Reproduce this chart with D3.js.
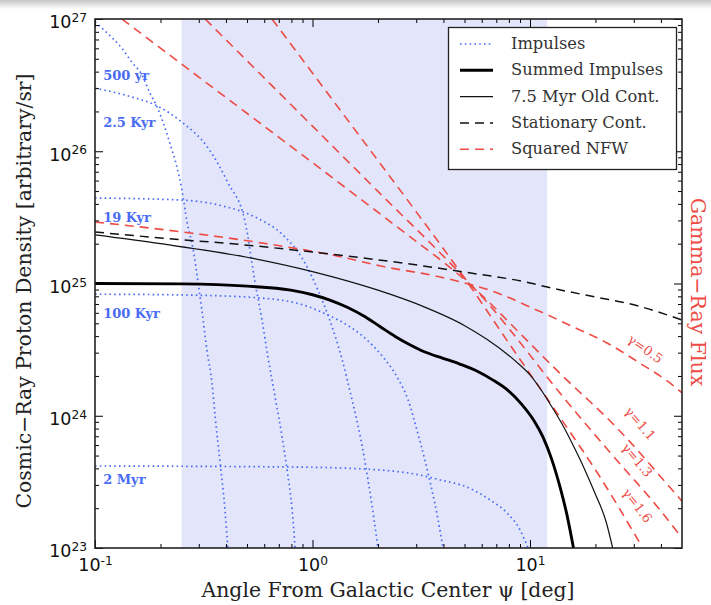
<!DOCTYPE html>
<html>
<head>
<meta charset="utf-8">
<script src="https://cdn.jsdelivr.net/npm/d3@7"></script>
<style>
  body { margin: 0; background: #fff; }
  svg { display: block; }
</style>
</head>
<body>
<svg id="chart" width="711" height="605"></svg>
<script>
// ---- data: [angle psi in deg, density] ----
const impulse500yr = [[0.1,9.5e26],[0.12,7.2e26],[0.133,6.0e26],[0.148,4.7e26],[0.164,3.8e26],[0.179,2.75e26],[0.193,2.16e26],[0.206,1.64e26],[0.221,1.15e26],[0.238,7.6e25],[0.251,5.1e25],[0.265,2.92e25],[0.283,1.79e25],[0.298,1.01e25],[0.310,6.3e24],[0.327,3.14e24],[0.345,1.77e24],[0.357,9.8e23],[0.376,4.4e23],[0.396,1.94e23],[0.408,1.0e23]];
const impulse2500yr = [[0.1,3.0e26],[0.148,2.57e26],[0.189,2.24e26],[0.251,1.66e26],[0.331,1.06e26],[0.408,5.8e25],[0.490,2.92e25],[0.545,1.01e25],[0.586,5.3e24],[0.624,2.78e24],[0.673,1.39e24],[0.725,6.9e23],[0.764,3.9e23],[0.806,1.94e23],[0.832,1.0e23]];
const impulse19kyr = [[0.1,4.43e25],[0.246,4.28e25],[0.388,3.85e25],[0.545,3.18e25],[0.731,2.33e25],[0.895,1.56e25],[1.06,8.9e24],[1.20,5.3e24],[1.37,2.64e24],[1.52,1.32e24],[1.67,6.6e23],[1.80,3.27e23],[1.92,1.63e23],[2.0,1.0e23]];
const impulse100kyr = [[0.1,8.3e24],[0.246,8.2e24],[0.556,7.8e24],[0.903,6.9e24],[1.17,5.8e24],[1.49,4.7e24],[1.78,3.74e24],[2.11,2.78e24],[2.45,1.96e24],[2.75,1.32e24],[3.02,7.8e23],[3.29,4.6e23],[3.54,2.75e23],[3.78,1.63e23],[3.98,1.0e23]];
const impulse2myr = [[0.1,4.17e23],[0.877,4.09e23],[2.04,3.89e23],[3.12,3.56e23],[3.86,3.27e23],[5.13,2.89e23],[6.55,2.31e23],[7.84,1.84e23],[9.0,1.37e23],[9.79,1.0e23]];

const summedImpulses = [[0.1,1.0e25],[0.251,9.93e24],[0.501,9.55e24],[0.794,8.91e24],[1.0,8.22e24],[1.202,7.5e24],[1.445,6.61e24],[1.738,5.62e24],[2.042,4.73e24],[2.399,3.98e24],[2.818,3.43e24],[3.311,3.02e24],[3.981,2.72e24],[4.786,2.45e24],[5.754,2.16e24],[6.761,1.86e24],[7.943,1.55e24],[9.12,1.23e24],[10.47,9.1e23],[11.48,6.9e23],[12.59,4.68e23],[13.8,2.82e23],[14.79,1.78e23],[15.85,1.0e23]];
const oldContinuous = [[0.1,2.33e25],[0.2,2.0e25],[0.5,1.58e25],[1,1.23e25],[2,8.9e24],[3.16,6.8e24],[5.01,4.8e24],[6.31,3.8e24],[7.94,2.88e24],[8.91,2.45e24],[10,2.04e24],[11.22,1.58e24],[12.59,1.17e24],[14.13,8.5e23],[15.85,5.9e23],[17.78,3.98e23],[19.95,2.57e23],[22.39,1.58e23],[24.0,1.0e23]];
const stationaryContinuous = [[0.1,2.45e25],[0.2,2.21e25],[0.5,1.95e25],[1,1.73e25],[2,1.51e25],[5,1.22e25],[10,1.01e25],[12,9.4e24],[20,7.9e24],[30,6.9e24],[50,5.3e24]];

const nfwGamma05 = [[0.1,2.92e25],[0.274,2.41e25],[0.591,2.02e25],[1.38,1.58e25],[2.04,1.36e25],[3.86,1.12e25],[7.05,8.5e24],[10.3,6.5e24],[15.8,4.7e24],[22.6,3.55e24],[32.0,2.5e24],[44.0,1.77e24],[50,1.49e24]];
const nfwGamma11 = [[0.133,1e27],[0.3,3.64e26],[1,8.2e25],[3,2.08e25],[4,1.45e25],[5,1.07e25],[6.5,7.2e24],[8.1,5.0e24],[13.7,2.1e24],[25.1,8.1e23],[46.4,2.6e23],[50,2.26e23]];
const nfwGamma13 = [[0.321,1e27],[1,1.55e26],[2,4.97e25],[5,1.1e25],[6.5,6.9e24],[8.1,4.45e24],[13.7,1.49e24],[23.3,5.3e23],[39.6,1.94e23],[50,1.19e23]];
const nfwGamma16 = [[0.652,1e27],[1,3.9e26],[2,8.5e25],[3,3.48e25],[5,1.1e25],[8.1,3.43e24],[13.7,9.8e23],[21.0,3.44e23],[32.0,1.09e23]];

const impulseNames = ["500 yr", "2.5 Kyr", "19 Kyr", "100 Kyr", "2 Myr"];
const impulseLabelLevels = [3.46e26, 1.52e26, 2.92e25, 5.48e24, 3.05e23];
const gammaNames = ["\u03b3=0.5", "\u03b3=1.1", "\u03b3=1.3", "\u03b3=1.6"];
const gammaLabelAt = [[33, 3.0e24], [31, 8.3e23], [30, 4.4e23], [30, 2.0e23]];
const gammaLabelAngle = [35, 49, 50, 52];
const legendNames = ["Impulses", "Summed Impulses", "7.5 Myr Old Cont.", "Stationary Cont.", "Squared NFW"];
const xTickValues = [0.1, 1, 10];
const yTickValues = [1e23, 1e24, 1e25, 1e26, 1e27];
const shadedRange = [0.25, 12];

// ---- layout ----
const svg = d3.select("#chart");
const plot = { left: 95, right: 682, top: 19, bottom: 548 };
const blue = "#4a6cf4", red = "#ee4b45", shade = "#e3e5fb";
const serif = "'DejaVu Serif', serif";
const sans = "'DejaVu Sans', sans-serif";

const x = d3.scaleLog().domain([0.1, 50]).range([plot.left, plot.right]);
const y = d3.scaleLog().domain([1e23, 1e27]).range([plot.bottom, plot.top]);

// faint shadow band across the top edge
const defs = svg.append("defs");
const grad = defs.append("linearGradient").attr("id", "topShade").attr("x1", 0).attr("y1", 0).attr("x2", 0).attr("y2", 1);
grad.append("stop").attr("offset", 0).attr("stop-color", "#c4c4c4");
grad.append("stop").attr("offset", 1).attr("stop-color", "#ffffff");
svg.append("rect").attr("x", 0).attr("y", 0).attr("width", 711).attr("height", 9).attr("fill", "url(#topShade)");

defs.append("clipPath").attr("id", "plotClip").append("rect")
  .attr("x", plot.left).attr("y", plot.top)
  .attr("width", plot.right - plot.left).attr("height", plot.bottom - plot.top);

// shaded angular band
svg.append("rect")
  .attr("x", x(shadedRange[0])).attr("y", plot.top)
  .attr("width", x(shadedRange[1]) - x(shadedRange[0]))
  .attr("height", plot.bottom - plot.top)
  .attr("fill", shade);

const line = d3.line().x(d => x(d[0])).y(d => y(d[1])).curve(d3.curveMonotoneX);
const curves = svg.append("g").attr("clip-path", "url(#plotClip)");

const styles = {
  impulse: { stroke: blue, width: 1.7, dash: "1.6,3.2" },
  summed: { stroke: "#000", width: 2.9, dash: null },
  old: { stroke: "#111", width: 1.2, dash: null },
  stationary: { stroke: "#111", width: 1.5, dash: "9,6" },
  nfw: { stroke: red, width: 1.6, dash: "9,6" }
};

function drawCurve(data, st) {
  curves.append("path")
    .attr("d", line(data))
    .attr("fill", "none")
    .attr("stroke", st.stroke)
    .attr("stroke-width", st.width)
    .attr("stroke-dasharray", st.dash);
}

[impulse500yr, impulse2500yr, impulse19kyr, impulse100kyr, impulse2myr].forEach(d => drawCurve(d, styles.impulse));
[nfwGamma05, nfwGamma11, nfwGamma13, nfwGamma16].forEach(d => drawCurve(d, styles.nfw));
drawCurve(stationaryContinuous, styles.stationary);
drawCurve(oldContinuous, styles.old);
drawCurve(summedImpulses, styles.summed);

// impulse age labels
impulseNames.forEach((name, i) => {
  svg.append("text")
    .attr("x", x(0.109)).attr("y", y(impulseLabelLevels[i]))
    .attr("font-family", serif).attr("font-size", 13).attr("font-weight", "bold")
    .attr("fill", blue).text(name);
});

// gamma labels along the NFW curves
gammaNames.forEach((name, i) => {
  const px = x(gammaLabelAt[i][0]), py = y(gammaLabelAt[i][1]);
  svg.append("text")
    .attr("transform", `translate(${px},${py}) rotate(${gammaLabelAngle[i]})`)
    .attr("text-anchor", "middle")
    .attr("font-family", serif).attr("font-size", 13)
    .attr("fill", red).text(name);
});

// ---- axes with inward log ticks on all four sides ----
function minorTicks(domain) {
  const out = [];
  for (let e = Math.floor(Math.log10(domain[0])); e <= Math.ceil(Math.log10(domain[1])); e++) {
    for (let m = 2; m <= 9; m++) {
      const v = m * Math.pow(10, e);
      if (v > domain[0] && v < domain[1]) out.push(v);
    }
  }
  return out;
}
function supLabel(sel) {
  sel.each(function(d) {
    const t = d3.select(this);
    const e = Math.round(Math.log10(d));
    t.text(null);
    t.append("tspan").text("10");
    t.append("tspan").attr("dy", "-0.5em").attr("font-size", "0.7em").text(e);
  });
}
function styleAxis(g) {
  g.select(".domain").remove();
  g.selectAll(".tick line").attr("stroke", "#000").attr("stroke-width", 1);
}

const xMinor = minorTicks(x.domain());
const yMinor = minorTicks(y.domain());

// bottom
svg.append("g").attr("transform", `translate(0,${plot.bottom})`)
  .call(d3.axisBottom(x).tickValues(xTickValues).tickSize(-8).tickPadding(11))
  .call(styleAxis)
  .call(g => g.selectAll(".tick text").attr("font-family", sans).attr("font-size", 17.5).attr("fill", "#111").call(supLabel));
svg.append("g").attr("transform", `translate(0,${plot.bottom})`)
  .call(d3.axisBottom(x).tickValues(xMinor).tickSize(-4).tickFormat(""))
  .call(styleAxis);
// top
svg.append("g").attr("transform", `translate(0,${plot.top})`)
  .call(d3.axisTop(x).tickValues(xTickValues).tickSize(-8).tickFormat(""))
  .call(styleAxis);
svg.append("g").attr("transform", `translate(0,${plot.top})`)
  .call(d3.axisTop(x).tickValues(xMinor).tickSize(-4).tickFormat(""))
  .call(styleAxis);
// left
svg.append("g").attr("transform", `translate(${plot.left},0)`)
  .call(d3.axisLeft(y).tickValues(yTickValues).tickSize(-8).tickPadding(8))
  .call(styleAxis)
  .call(g => g.selectAll(".tick text").attr("font-family", sans).attr("font-size", 17.5).attr("fill", "#111").attr("dy", "0.5em").call(supLabel));
svg.append("g").attr("transform", `translate(${plot.left},0)`)
  .call(d3.axisLeft(y).tickValues(yMinor).tickSize(-4).tickFormat(""))
  .call(styleAxis);
// right
svg.append("g").attr("transform", `translate(${plot.right},0)`)
  .call(d3.axisRight(y).tickValues(yTickValues).tickSize(-8).tickFormat(""))
  .call(styleAxis);
svg.append("g").attr("transform", `translate(${plot.right},0)`)
  .call(d3.axisRight(y).tickValues(yMinor).tickSize(-4).tickFormat(""))
  .call(styleAxis);

// frame
svg.append("rect")
  .attr("x", plot.left).attr("y", plot.top)
  .attr("width", plot.right - plot.left).attr("height", plot.bottom - plot.top)
  .attr("fill", "none").attr("stroke", "#222").attr("stroke-width", 1.6);

// ---- axis titles ----
svg.append("text")
  .attr("x", 388).attr("y", 597)
  .attr("text-anchor", "middle").attr("font-family", serif).attr("font-size", 20.4)
  .attr("fill", "#222").text("Angle From Galactic Center \u03c8 [deg]");
svg.append("text")
  .attr("transform", `translate(31,291) rotate(-90)`)
  .attr("text-anchor", "middle").attr("font-family", serif).attr("font-size", 20.4)
  .attr("fill", "#222").text("Cosmic\u2212Ray Proton Density [arbitrary/sr]");
svg.append("text")
  .attr("transform", `translate(691,292) rotate(90)`)
  .attr("text-anchor", "middle").attr("font-family", serif).attr("font-size", 20.5)
  .attr("fill", red).text("Gamma\u2212Ray Flux");

// ---- legend ----
const legend = svg.append("g");
legend.append("rect")
  .attr("x", 448.5).attr("y", 27.5).attr("width", 228).attr("height", 142)
  .attr("fill", "#fff").attr("stroke", "#222").attr("stroke-width", 1.3);
const legendStyles = [styles.impulse, styles.summed, styles.old, styles.stationary, styles.nfw];
legendNames.forEach((name, i) => {
  const ly = 44 + i * 26.3;
  const st = legendStyles[i];
  legend.append("line")
    .attr("x1", 460).attr("x2", 493).attr("y1", ly).attr("y2", ly)
    .attr("stroke", st.stroke).attr("stroke-width", st.width)
    .attr("stroke-dasharray", st.dash);
  legend.append("text")
    .attr("x", 511).attr("y", ly + 5)
    .attr("font-family", serif).attr("font-size", 16.3)
    .attr("fill", "#333").text(name);
});
</script>
</body>
</html>
